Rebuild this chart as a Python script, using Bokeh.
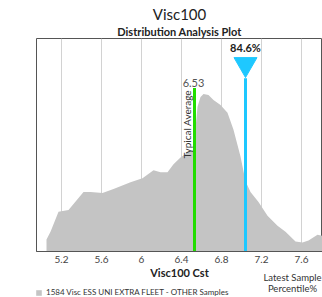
import math
from bokeh.plotting import figure
from bokeh.layouts import column
from bokeh.models import Range1d, Label, Legend, LegendItem, FixedTicker, Title
from bokeh.embed import file_html
from bokeh.resources import INLINE

# Density curve (Visc100 Cst vs relative density)
visc = [5.05, 5.09, 5.17, 5.27, 5.42, 5.49, 5.61, 5.72, 5.89, 6.01, 6.12, 6.19,
        6.26, 6.32, 6.39, 6.47, 6.52, 6.56, 6.59, 6.62, 6.67, 6.72, 6.79, 6.86,
        6.92, 6.99, 7.04, 7.09, 7.17, 7.26, 7.36, 7.44, 7.54, 7.61, 7.67, 7.76, 7.85]
density = [0.12, 0.20, 0.40, 0.42, 0.60, 0.60, 0.59, 0.63, 0.70, 0.74, 0.82, 0.80,
           0.80, 0.88, 0.95, 1.01, 1.03, 1.46, 1.56, 1.59, 1.58, 1.53, 1.48, 1.40,
           1.23, 0.96, 0.71, 0.60, 0.50, 0.36, 0.26, 0.20, 0.10, 0.09, 0.11, 0.17, 0.15]
ticks = [5.2, 5.6, 6.0, 6.4, 6.8, 7.2, 7.6]
typical_average = 6.53
latest_sample = 7.04
latest_percentile = 84.6
sample_count = 1584

FONT = "Lato"
GREEN = "#22dd00"
BLUE = "#1ec8ff"
GREY = "#c4c4c4"

p = figure(width=322, height=281, output_backend="svg", toolbar_location=None,
           x_range=Range1d(4.95, 7.81), y_range=Range1d(0, 2.15),
           min_border_left=36, min_border_right=0, min_border_top=38, min_border_bottom=28)
p.background_fill_color = "white"
p.border_fill_color = "white"
p.outline_line_color = "#555555"
p.outline_line_width = 1

area = p.varea(x=visc, y1=0, y2=density, fill_color=GREY)

p.yaxis.visible = False
p.ygrid.visible = False
p.xgrid.ticker = FixedTicker(ticks=ticks)
p.xgrid.grid_line_color = "#d2d2d2"
p.xgrid.grid_line_width = 1
p.xgrid.level = "image"
p.xaxis.ticker = FixedTicker(ticks=ticks)
p.xaxis.major_label_overrides = {t: (str(t) if t != 6.0 else "6") for t in ticks}
p.xaxis.major_tick_line_color = None
p.xaxis.major_tick_out = 0
p.xaxis.major_tick_in = 0
p.xaxis.minor_tick_line_color = None
p.xaxis.minor_tick_out = 0
p.xaxis.axis_line_color = "#555555"
p.xaxis.major_label_text_font = FONT
p.xaxis.major_label_text_font_size = "10px"
p.xaxis.major_label_text_color = "#444444"
p.xaxis.major_label_standoff = 4
p.xaxis.axis_label = "Visc100 Cst"
p.xaxis.axis_label_text_font = FONT
p.xaxis.axis_label_text_font_size = "11px"
p.xaxis.axis_label_text_font_style = "bold"
p.xaxis.axis_label_text_color = "#222222"
p.xaxis.axis_label_standoff = 0

# Typical average line
avg_top = 1.65
p.segment(x0=[typical_average], y0=[0], x1=[typical_average], y1=[avg_top],
          line_color=GREEN, line_width=3)
p.add_layout(Label(x=typical_average, y=avg_top, text=f"{typical_average:.2f}",
                   text_align="center", text_baseline="bottom", y_offset=1, x_offset=-1,
                   text_font=FONT, text_font_size="11px", text_color="#555555"))
p.add_layout(Label(x=typical_average, y=avg_top - 0.02, text="Typical Average",
                   angle=math.pi / 2, text_align="right", text_baseline="bottom",
                   x_offset=-2, text_font=FONT, text_font_size="10px", text_color="#333333"))

# Latest sample line + marker
latest_top = 1.75
p.segment(x0=[latest_sample], y0=[0], x1=[latest_sample], y1=[latest_top],
          line_color=BLUE, line_width=3)
p.scatter(x=[latest_sample], y=[latest_top + 0.14], marker="inverted_triangle",
          size=23, fill_color=BLUE, line_color=BLUE)
p.add_layout(Label(x=latest_sample, y=latest_top + 0.24, text=f"{latest_percentile}%",
                   text_align="center", text_baseline="bottom",
                   text_font=FONT, text_font_size="11px", text_font_style="bold",
                   text_color="#222222"))

# Titles
p.add_layout(Title(text="Distribution Analysis Plot", align="center", offset=-1,
                   text_font=FONT, text_font_size="11px", text_font_style="bold",
                   text_color="#222222", standoff=1), "above")
p.add_layout(Title(text="Visc100", align="center", offset=8,
                   text_font=FONT, text_font_size="15px", text_font_style="normal",
                   text_color="#222222", standoff=0), "above")

# Bottom strip: legend + latest-sample note (overlaps the axis panel, transparent).
# Its frame is aligned with the main frame (x from 36 to 322 px).
q = figure(width=322, height=30, output_backend="svg", toolbar_location=None,
           x_range=Range1d(36, 322), y_range=Range1d(0, 30),
           x_axis_location=None, y_axis_location=None,
           min_border_left=36, min_border_right=0, min_border_top=0, min_border_bottom=0,
           margin=(-14, 0, 0, 0))
q.grid.visible = False
q.outline_line_color = None
q.background_fill_alpha = 0
q.border_fill_alpha = 0
swatch = q.quad(left=[0], right=[10], bottom=[-20], top=[-10],
                fill_color=GREY, line_color=None)
q.scatter(x=[296], y=[-7], marker="inverted_triangle", size=16,
          fill_color=BLUE, line_color=BLUE)
q.add_layout(Label(x=292, y=20, text="Latest Sample", text_align="center",
                   text_baseline="middle", text_font=FONT, text_font_size="9.5px",
                   text_color="#333333"))
q.add_layout(Label(x=292, y=9, text="Percentile%", text_align="center",
                   text_baseline="middle", text_font=FONT, text_font_size="9.5px",
                   text_color="#333333"))
legend = Legend(items=[LegendItem(label=f"{sample_count} Visc ESS UNI EXTRA FLEET - OTHER Samples",
                                  renderers=[swatch])],
                location=(-1, 0), orientation="horizontal",
                label_text_font=FONT, label_text_font_size="8px", label_text_color="#333333",
                glyph_width=7, glyph_height=7, label_height=9, padding=0, margin=0,
                border_line_color=None, background_fill_alpha=0, label_standoff=4)
q.add_layout(legend)

open("out.html", "w").write(file_html(column(p, q, spacing=0), INLINE))
